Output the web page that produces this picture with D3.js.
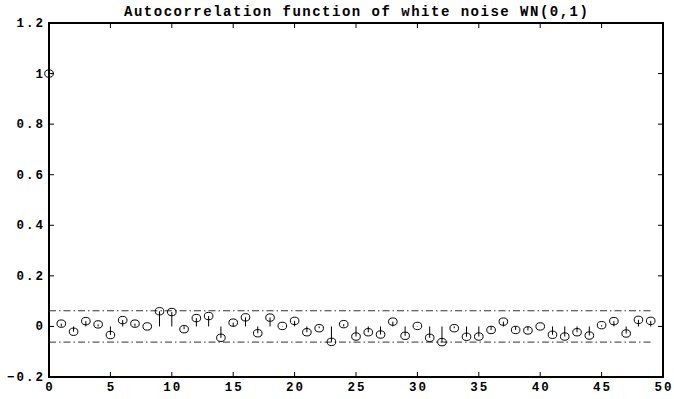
<!DOCTYPE html>
<html>
<head>
<meta charset="utf-8">
<script src="https://cdn.jsdelivr.net/npm/d3@7"></script>
<style>
  body { margin: 0; background: #fff; }
  text { font-family: "Liberation Mono", "DejaVu Sans Mono", monospace; font-weight: bold; fill: #000; }
</style>
</head>
<body>
<svg id="chart" width="674" height="399"></svg>
<script>
// autocorrelation at lags 0..49
const lags = d3.range(0, 50);
const acf = [1.000,
  0.011, -0.021, 0.021, 0.008, -0.034, 0.025, 0.011, 0.000, 0.060, 0.057,
  -0.011, 0.033, 0.041, -0.045, 0.015, 0.036, -0.027, 0.035, 0.002, 0.022,
  -0.023, -0.007, -0.061, 0.009, -0.040, -0.023, -0.032, 0.019, -0.037, 0.002,
  -0.045, -0.062, -0.007, -0.041, -0.040, -0.014, 0.019, -0.014, -0.016, 0.000,
  -0.033, -0.040, -0.023, -0.036, 0.005, 0.021, -0.028, 0.026, 0.022];
const bound = 0.062;
const xTicks = d3.range(0, 51, 5);
const yTicks = [-0.2, 0, 0.2, 0.4, 0.6, 0.8, 1, 1.2];
const title = "Autocorrelation function of white noise WN(0,1)";

const svg = d3.select("#chart");
const plot = { left: 49, right: 663, top: 23, bottom: 377 };

const x = d3.scaleLinear().domain([0, 50]).range([plot.left, plot.right]);
const y = d3.scaleLinear().domain([-0.2, 1.2]).range([plot.bottom, plot.top]);

const ls = 2; // letter spacing for tick labels

// confidence bounds
[bound, -bound].forEach(b => {
  svg.append("line")
    .attr("x1", x(0)).attr("x2", x(49))
    .attr("y1", y(b)).attr("y2", y(b))
    .style("stroke", "#333")
    .style("stroke-width", 1)
    .style("stroke-dasharray", "7,3,1.5,3");
});

// stems
svg.append("g").selectAll("line")
  .data(lags)
  .enter().append("line")
  .attr("x1", d => x(d)).attr("x2", d => x(d))
  .attr("y1", y(0)).attr("y2", d => y(acf[d]))
  .style("stroke", "#000")
  .style("stroke-width", 1);

// markers
svg.append("g").selectAll("ellipse")
  .data(lags)
  .enter().append("ellipse")
  .attr("cx", d => x(d))
  .attr("cy", d => y(acf[d]))
  .attr("rx", 4.3).attr("ry", 3.7)
  .attr("fill", "none")
  .style("stroke", "#000")
  .style("stroke-width", 1);

// frame
svg.append("rect")
  .attr("x", plot.left).attr("y", plot.top)
  .attr("width", plot.right - plot.left).attr("height", plot.bottom - plot.top)
  .attr("fill", "none")
  .style("stroke", "#000")
  .style("stroke-width", 2);

const tl = 5;
const fmtY = d => d === 0 ? "0" : d === 1 ? "1" : d3.format(".1f")(d);

// x ticks (inward, bottom and top)
xTicks.forEach(t => {
  svg.append("line").attr("x1", x(t)).attr("x2", x(t))
    .attr("y1", plot.bottom).attr("y2", plot.bottom - tl).style("stroke", "#000");
  svg.append("line").attr("x1", x(t)).attr("x2", x(t))
    .attr("y1", plot.top).attr("y2", plot.top + tl).style("stroke", "#000");
});
svg.append("g").selectAll("text")
  .data(xTicks)
  .enter().append("text")
  .attr("x", d => x(d) + ls / 2)
  .attr("y", 391)
  .attr("text-anchor", "middle")
  .style("font-size", "12.5px")
  .style("letter-spacing", ls + "px")
  .text(d => d);

// y ticks (inward, left and right)
yTicks.forEach(t => {
  svg.append("line").attr("x1", plot.left).attr("x2", plot.left + tl)
    .attr("y1", y(t)).attr("y2", y(t)).style("stroke", "#000");
  svg.append("line").attr("x1", plot.right).attr("x2", plot.right - tl)
    .attr("y1", y(t)).attr("y2", y(t)).style("stroke", "#000");
});
svg.append("g").selectAll("text")
  .data(yTicks)
  .enter().append("text")
  .attr("x", 43 + ls)
  .attr("y", d => y(d) + 4)
  .attr("text-anchor", "end")
  .style("font-size", "12.5px")
  .style("letter-spacing", ls + "px")
  .text(fmtY);

// title
svg.append("text")
  .attr("x", (plot.left + plot.right) / 2 + 0.75)
  .attr("y", 16)
  .attr("text-anchor", "middle")
  .style("font-size", "14px")
  .style("letter-spacing", "1.5px")
  .text(title);
</script>
</body>
</html>
